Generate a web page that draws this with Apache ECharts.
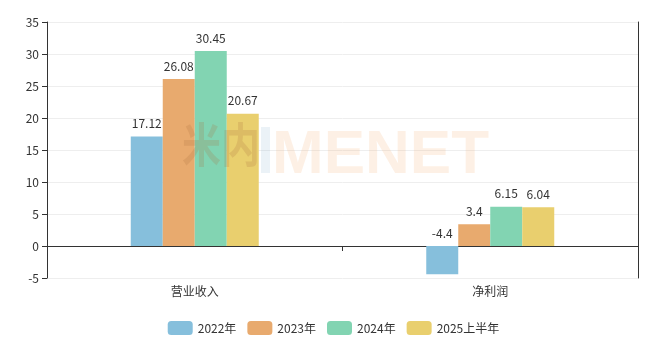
<!DOCTYPE html>
<html><head><meta charset="utf-8">
<script src="https://cdn.jsdelivr.net/npm/echarts@6/dist/echarts.min.js"></script>
<style>html,body{margin:0;padding:0;background:#fff}#c{width:667px;height:348px}</style>
</head><body><div id="c"></div>
<script>
const categories = ['营业收入', '净利润'];
const seriesNames = ['2022年', '2023年', '2024年', '2025上半年'];
const v2022 = [17.12, -4.4];
const v2023 = [26.08, 3.4];
const v2024 = [30.45, 6.15];
const v2025h1 = [20.67, 6.04];
const yTicks = { min: -5, max: 35, interval: 5 };

const values = [v2022, v2023, v2024, v2025h1];
const colors = ['#86BFDC', '#E8AA6E', '#82D4B2', '#E9CF6E'];
const font = '"Noto Sans CJK SC", "Noto Sans", sans-serif';

const chart = echarts.init(document.getElementById('c'));
chart.setOption({
  animation: false,
  textStyle: { fontFamily: font },
  grid: { left: 47, right: 29, top: 22, bottom: 70 },
  legend: {
    top: 316, left: 'center', itemWidth: 25, itemHeight: 14, itemGap: 11,
    textStyle: { color: '#333', fontSize: 12, fontFamily: font },
    data: seriesNames
  },
  xAxis: {
    type: 'category', data: categories,
    axisLine: { lineStyle: { color: '#333' } },
    axisTick: { show: true, lineStyle: { color: '#333' } },
    axisLabel: { color: '#333', fontSize: 12, margin: 7 }
  },
  yAxis: [{
    type: 'value', min: yTicks.min, max: yTicks.max, interval: yTicks.interval,
    axisLine: { show: true, lineStyle: { color: '#333' } },
    axisTick: { show: true, lineStyle: { color: '#333' } },
    axisLabel: { color: '#333', fontSize: 12 },
    splitLine: { lineStyle: { color: '#eee' } }
  }, {
    type: 'value', min: yTicks.min, max: yTicks.max, interval: yTicks.interval, position: 'right',
    axisLine: { show: true, lineStyle: { color: '#333' } },
    axisTick: { show: false }, axisLabel: { show: false }, splitLine: { show: false }
  }],
  series: seriesNames.map((n, i) => ({
    name: n, type: 'bar', data: values[i], barWidth: 32, barGap: '0%',
    itemStyle: { color: colors[i] },
    label: { show: true, position: 'top', distance: 7, color: '#333', fontSize: 12 }
  })),
  graphic: [
    { type: 'text', z: 100, x: 182, y: 121, scaleY: 1.2, style: { text: '米内', font: 'bold 39px "Noto Sans CJK SC"', fill: 'rgba(170,110,60,0.2)' } },
    { type: 'rect', z: 100, left: 261, top: 127, shape: { width: 9, height: 46 }, style: { fill: 'rgba(120,170,200,0.15)' } },
    { type: 'text', z: 100, left: 272, top: 125, style: { text: 'MENET', font: 'bold 62px "Liberation Sans"', fill: 'rgba(245,170,110,0.18)' } }
  ]
});
</script></body></html>
